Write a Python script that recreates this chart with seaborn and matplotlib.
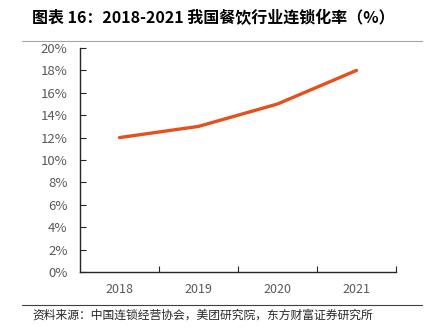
import matplotlib
matplotlib.use("Agg")
import matplotlib.pyplot as plt
import seaborn as sns
import pandas as pd
from matplotlib.lines import Line2D
from matplotlib.ticker import FuncFormatter, MultipleLocator

years = ["2018", "2019", "2020", "2021"]
rates = [12, 13, 15, 18]
title = "图表 16：2018-2021 我国餐饮行业连锁化率（%）"
source = "资料来源：中国连锁经营协会，美团研究院，东方财富证券研究所"

sns.set_style("white")
plt.rcParams['font.family'] = ['Noto Sans CJK SC', 'DejaVu Sans']

fig = plt.figure(figsize=(4.32, 3.30), dpi=100)
ax = fig.add_axes([80/432, 1-272/330, (396-80)/432, (272-48)/330])

df = pd.DataFrame({"year": years, "rate": rates})
sns.lineplot(data=df, x="year", y="rate", ax=ax, color="#E6501E", linewidth=2.4, sort=False)

ax.set_xlim(-0.5, 3.5)
ax.set_ylim(0, 20)
ax.yaxis.set_major_locator(MultipleLocator(2))
ax.yaxis.set_major_formatter(FuncFormatter(lambda v, p: f"{int(v)}%"))
ax.set_xticks(range(len(years)))
ax.set_xticklabels(years)
ax.set_xticks([0.5, 1.5, 2.5, 3.5], minor=True)
ax.set_xlabel("")
ax.set_ylabel("")
for s in ["top", "right"]:
    ax.spines[s].set_visible(False)
for s in ["left", "bottom"]:
    ax.spines[s].set_color("#262626")
    ax.spines[s].set_linewidth(1.0)
ax.tick_params(axis="y", direction="in", length=4, width=0.8, color="#262626",
               labelsize=9.5, labelcolor="#595959", pad=9, left=True)
ax.tick_params(axis="x", which="major", length=0, labelsize=9, labelcolor="#595959", pad=8)
ax.tick_params(axis="x", which="minor", direction="in", length=4, width=0.8, color="#262626", bottom=True)

fig.text(32/432, 1-18/330, title, fontsize=11.5, fontweight="bold", color="#000000",
         va="center", ha="left")
fig.add_artist(Line2D([22/432, 422/432], [1-40.5/330, 1-40.5/330], color="#A6A6A6", linewidth=0.8,
                      transform=fig.transFigure))
fig.add_artist(Line2D([22/432, 422/432], [1-305/330, 1-305/330], color="#404040", linewidth=0.8,
                      transform=fig.transFigure))
fig.text(32/432, 1-315/330, source, fontsize=8.5, color="#262626", va="center", ha="left")

fig.savefig("out.png", dpi=100)
